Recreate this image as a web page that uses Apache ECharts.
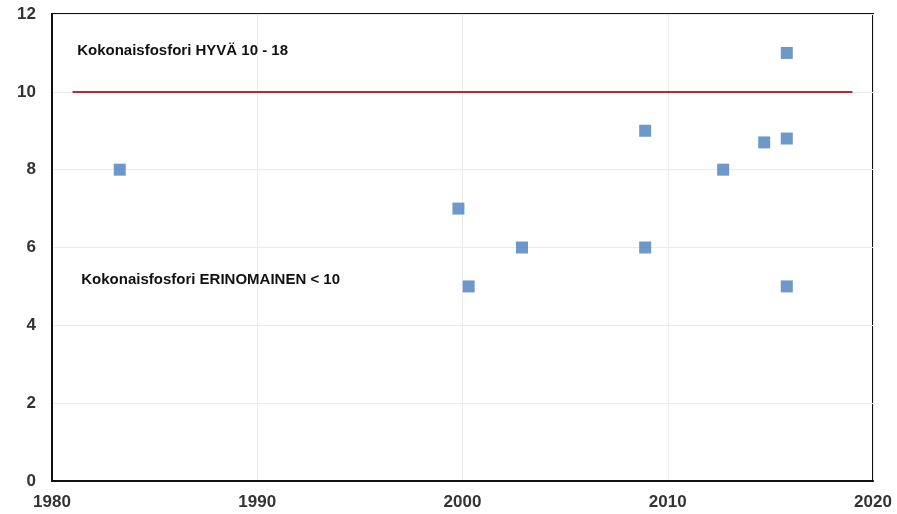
<!DOCTYPE html>
<html><head><meta charset="utf-8">
<script src="https://cdn.jsdelivr.net/npm/echarts@6/dist/echarts.min.js"></script>
<style>html,body{margin:0;padding:0;background:#fff}#c{width:897px;height:514px}</style>
</head><body><div id="c"></div>
<script>
const years = [1983.3, 1999.8, 2000.3, 2002.9, 2008.9, 2008.9, 2012.7, 2014.7, 2015.8, 2015.8, 2015.8];
const values = [8, 7, 5, 6, 9, 6, 8, 8.7, 11, 8.8, 5];
const limitLine = {start: 1981, end: 2019, value: 10};
const labelGood = {text: 'Kokonaisfosfori HYVÄ 10 - 18', x: 1981.2, y: 11.05};
const labelExcellent = {text: 'Kokonaisfosfori ERINOMAINEN < 10', x: 1981.4, y: 5.16};

const chart = echarts.init(document.getElementById('c'), null, {renderer: 'canvas'});
const axisLabel = {color: '#333', fontFamily: 'Liberation Sans, Arial, sans-serif', fontWeight: 'bold', fontSize: 17};
const textLabel = (t) => ({
  show: true, formatter: t.text, position: 'right', distance: 0,
  color: '#111', fontFamily: 'Liberation Sans, Arial, sans-serif', fontWeight: 'bold', fontSize: 15
});
chart.setOption({
  animation: false,
  grid: {left: 52, right: 24, top: 14, bottom: 33, show: true, borderColor: '#111', borderWidth: 2, backgroundColor: '#fff'},
  xAxis: {
    type: 'value', min: 1980, max: 2020, interval: 10,
    axisLine: {show: true, lineStyle: {color: '#111', width: 2}},
    axisTick: {show: false},
    axisLabel: Object.assign({margin: 13, formatter: (v) => String(v)}, axisLabel),
    splitLine: {show: true, lineStyle: {color: '#ebebeb', width: 1}}
  },
  yAxis: {
    type: 'value', min: 0, max: 12, interval: 2,
    axisLine: {show: true, lineStyle: {color: '#111', width: 2}},
    axisTick: {show: false},
    axisLabel: Object.assign({margin: 16}, axisLabel),
    splitLine: {show: true, lineStyle: {color: '#ebebeb', width: 1}}
  },
  series: [{
    type: 'scatter',
    symbol: 'rect', symbolSize: 12,
    itemStyle: {color: '#4a7ebb'},
    data: years.map((y, i) => [y, values[i]]),
    markLine: {
      silent: true, symbol: 'none', label: {show: false},
      lineStyle: {color: '#c0282e', width: 2, type: 'solid'},
      data: [[{coord: [limitLine.start, limitLine.value]}, {coord: [limitLine.end, limitLine.value]}]]
    },
    markPoint: {
      silent: true, symbol: 'circle', symbolSize: 1, itemStyle: {color: 'rgba(0,0,0,0)'},
      data: [
        {coord: [labelGood.x, labelGood.y], label: textLabel(labelGood)},
        {coord: [labelExcellent.x, labelExcellent.y], label: textLabel(labelExcellent)}
      ]
    }
  }]
});
</script></body></html>
